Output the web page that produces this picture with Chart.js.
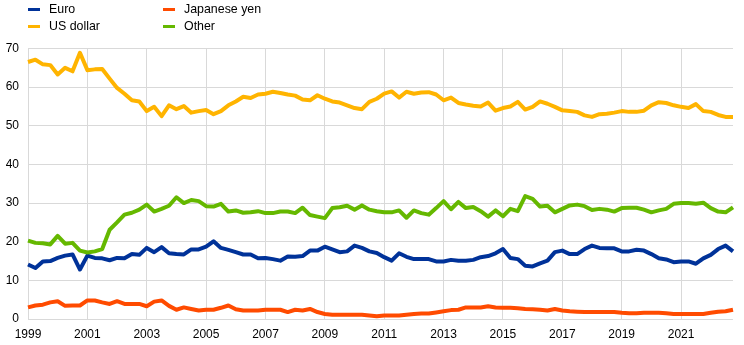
<!DOCTYPE html>
<html>
<head>
<meta charset="utf-8">
<script src="https://cdn.jsdelivr.net/npm/chart.js@4.4.0/dist/chart.umd.min.js"></script>
<style>
body { margin: 0; background: #fff; }
#wrap { position: relative; width: 744px; height: 345px; font-family: Arial, "Liberation Sans", sans-serif; }
#chart { position: absolute; left: 0; top: 0; }
.item { position: absolute; font-size: 12.4px; line-height: 14px; color: #000; white-space: nowrap; }
.item .mark { position: absolute; width: 12px; height: 3px; }
</style>
</head>
<body>
<div id="wrap">
    <canvas id="chart" width="744" height="345"></canvas>
</div>
<script>
// quarterly, 1999 Q1 - 2022 Q4
var startYear = 1999;
var endYear = 2022;

var euro = [14.1, 13.2, 14.9, 15.0, 15.8, 16.4, 16.7, 12.8, 16.4, 15.8, 15.7, 15.2, 15.8, 15.7, 16.8, 16.6,
    18.4, 17.3, 18.6, 17.0, 16.8, 16.7, 18.0, 18.0, 18.7, 20.1, 18.4, 17.9, 17.3, 16.7, 16.7, 15.7,
    15.8, 15.5, 15.1, 16.2, 16.1, 16.3, 17.7, 17.7, 18.7, 18.0, 17.3, 17.5, 19.0, 18.4, 17.5, 17.1,
    16.0, 15.1, 17.0, 16.1, 15.5, 15.5, 15.5, 14.9, 14.9, 15.3, 15.1, 15.1, 15.3, 16.0, 16.3, 17.0,
    18.1, 15.8, 15.5, 13.8, 13.6, 14.4, 15.1, 17.3, 17.7, 16.8, 16.8, 18.1, 19.0, 18.4, 18.3, 18.3,
    17.5, 17.5, 17.9, 17.7, 16.8, 15.7, 15.4, 14.7, 14.9, 14.9, 14.3, 15.7, 16.6, 18.1, 19.0, 17.5];

var usDollar = [66.5, 67.1, 65.9, 65.7, 63.3, 65.0, 64.1, 68.9, 64.4, 64.6, 64.7, 62.2, 59.8, 58.3, 56.6, 56.3,
    53.8, 54.9, 52.5, 55.3, 54.3, 55.1, 53.4, 53.8, 54.1, 53.0, 53.8, 55.3, 56.3, 57.5, 57.2, 58.1,
    58.3, 58.8, 58.5, 58.1, 57.8, 56.8, 56.6, 57.9, 57.0, 56.3, 56.0, 55.3, 54.6, 54.3, 56.2, 57.0,
    58.3, 58.9, 57.3, 58.8, 58.3, 58.6, 58.7, 58.1, 56.6, 57.3, 55.9, 55.5, 55.2, 55.0, 56.0, 53.9,
    54.6, 55.0, 56.2, 54.2, 54.9, 56.3, 55.7, 54.9, 54.0, 53.8, 53.6, 52.7, 52.3, 53.0, 53.1, 53.4,
    53.8, 53.6, 53.6, 53.9, 55.3, 56.1, 55.9, 55.3, 54.9, 54.6, 55.6, 53.8, 53.6, 52.8, 52.3, 52.3];

var yen = [3.0, 3.5, 3.7, 4.3, 4.6, 3.4, 3.5, 3.5, 4.8, 4.8, 4.3, 3.9, 4.6, 3.9, 3.9, 3.9,
    3.3, 4.5, 4.8, 3.4, 2.4, 3.0, 2.6, 2.2, 2.4, 2.4, 2.9, 3.5, 2.5, 2.2, 2.2, 2.2,
    2.4, 2.4, 2.4, 1.8, 2.4, 2.2, 2.6, 1.8, 1.3, 1.1, 1.1, 1.1, 1.1, 1.1, 0.9, 0.7,
    0.9, 0.9, 0.9, 1.1, 1.3, 1.4, 1.4, 1.7, 2.0, 2.3, 2.4, 3.0, 3.0, 3.0, 3.3, 3.0,
    2.9, 2.9, 2.8, 2.6, 2.5, 2.4, 2.2, 2.6, 2.2, 2.0, 1.9, 1.8, 1.8, 1.8, 1.8, 1.8,
    1.6, 1.5, 1.5, 1.6, 1.6, 1.6, 1.5, 1.3, 1.3, 1.3, 1.3, 1.3, 1.6, 1.9, 2.0, 2.4];

var other = [20.3, 19.7, 19.6, 19.3, 21.5, 19.5, 19.7, 17.7, 17.2, 17.5, 18.1, 23.1, 25.0, 27.0, 27.5, 28.3,
    29.6, 27.8, 28.5, 29.3, 31.5, 30.0, 30.8, 30.5, 29.2, 29.1, 29.8, 27.8, 28.1, 27.5, 27.6, 27.9,
    27.4, 27.4, 27.8, 27.8, 27.4, 28.8, 26.9, 26.5, 26.1, 28.7, 28.9, 29.3, 28.3, 29.4, 28.3, 27.9,
    27.6, 27.6, 28.1, 26.2, 28.1, 27.4, 27.0, 28.7, 30.5, 28.4, 30.3, 28.7, 29.0, 27.9, 26.5, 28.1,
    26.6, 28.5, 27.9, 31.8, 31.1, 29.1, 29.3, 27.6, 28.5, 29.4, 29.6, 29.2, 28.2, 28.5, 28.3, 27.8,
    28.7, 28.8, 28.8, 28.3, 27.6, 28.1, 28.5, 29.8, 30.0, 30.0, 29.8, 30.1, 28.7, 27.8, 27.6, 28.9];

var yTicks = [0, 10, 20, 30, 40, 50, 60, 70];

var series = [
    { label: "Euro", data: euro, color: "#003299" },
    { label: "US dollar", data: usDollar, color: "#ffb400" },
    { label: "Japanese yen", data: yen, color: "#ff4b00" },
    { label: "Other", data: other, color: "#65b800" }
];

var quarters = [];
for (var yr = startYear; yr <= endYear; yr++) {
    for (var q = 1; q <= 4; q++) quarters.push(yr + " Q" + q);
}

// label every second year, at its first quarter
function isYearTick(i) {
    return i % 8 == 0;
}

// legend, two columns
var legendPos = [[28, 2], [28, 19], [163, 2], [163, 19]];
var wrap = document.getElementById("wrap");
series.forEach(function (s, i) {
    var el = document.createElement("div");
    el.className = "item";
    el.style.left = legendPos[i][0] + "px";
    el.style.top = legendPos[i][1] + "px";
    el.innerHTML = `<span class="mark" style="left:0;top:6px;background:${s.color}"></span><span style="margin-left:21px">${s.label}</span>`;
    wrap.appendChild(el);
});

var gridColor = "#d9d9d9";

new Chart("chart", {
    type: "line",
    data: {
        labels: quarters,
        datasets: series.slice().reverse().map(function (s) {
            return {
                label: s.label,
                data: s.data,
                borderColor: s.color,
                backgroundColor: s.color,
                borderWidth: 4,
                pointRadius: 0,
                tension: 0,
                borderJoinStyle: "round"
            };
        })
    },
    options: {
        responsive: false,
        animation: false,
        layout: { padding: { top: 48.5, right: 11, bottom: 0, left: 0 } },
        plugins: {
            legend: { display: false },
            tooltip: { enabled: false }
        },
        scales: {
            x: {
                type: "category",
                offset: false,
                border: { display: false },
                grid: {
                    drawTicks: false,
                    lineWidth: 1,
                    color: function (ctx) {
                        return isYearTick(ctx.index) ? gridColor : "rgba(0,0,0,0)";
                    }
                },
                ticks: {
                    autoSkip: false,
                    maxRotation: 0,
                    minRotation: 0,
                    padding: 8,
                    color: "#000",
                    font: { family: "Arial, 'Liberation Sans'", size: 12 },
                    callback: function (v, i) {
                        return isYearTick(i) ? String(startYear + i / 4) : "";
                    }
                },
                afterFit: function (scale) { scale.height = 26; }
            },
            y: {
                min: yTicks[0],
                max: yTicks[yTicks.length - 1],
                border: { display: false },
                grid: { drawTicks: false, color: gridColor, lineWidth: 1 },
                afterBuildTicks: function (scale) {
                    scale.ticks = yTicks.map(function (v) { return { value: v }; });
                },
                ticks: {
                    padding: 9,
                    color: "#000",
                    font: { family: "Arial, 'Liberation Sans'", size: 12 }
                },
                afterFit: function (scale) { scale.width = 28; }
            }
        }
    }
});
</script>
</body>
</html>
